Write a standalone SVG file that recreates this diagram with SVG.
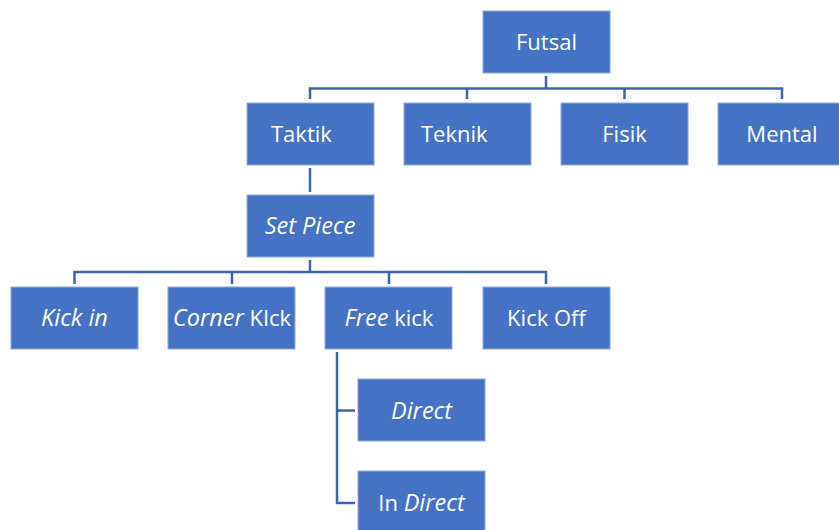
<svg xmlns="http://www.w3.org/2000/svg" width="839" height="530" viewBox="0 0 839 530">
<style>
.box{fill:#4472C4;stroke:#8FAADC;stroke-width:1}
.t{font-family:"Open Sans","Liberation Sans",sans-serif;font-size:22px;fill:#ffffff}
.c{text-anchor:middle}
.i{font-style:italic;font-size:23.5px}
.ln{fill:none;stroke:#3D65AD;stroke-width:2.5}
</style>
<rect width="839" height="530" fill="#ffffff"/>
<g id="connectors">
<path class="ln" d="M546,76 V88.5 M310,99 V88.5 H782 V99 M467,88.5 V99 M624.5,88.5 V99"/>
<path class="ln" d="M310,168 V192"/>
<path class="ln" d="M310,260 V272 M74.5,284 V272 H546 V284 M232,272 V284 M389,272 V284"/>
<path class="ln" d="M337,352 V503 H355 M337,410.5 H355"/>
</g>
<g id="futsal"><rect class="box" x="483" y="11" width="127" height="62"/><text class="t c" x="546.5" y="50">Futsal</text></g>
<g id="taktik"><rect class="box" x="247" y="103" width="127" height="62"/><text class="t" x="271" y="142">Taktik</text></g>
<g id="teknik"><rect class="box" x="404" y="103" width="127" height="62"/><text class="t" x="421" y="142">Teknik</text></g>
<g id="fisik"><rect class="box" x="561" y="103" width="127" height="62"/><text class="t c" x="624.5" y="142">Fisik</text></g>
<g id="mental"><rect class="box" x="718" y="103" width="127" height="62"/><text class="t c" x="782" y="142">Mental</text></g>
<g id="setpiece"><rect class="box" x="247" y="195" width="127" height="62"/><text class="t c i" x="310" y="234">Set Piece</text></g>
<g id="kickin"><rect class="box" x="11" y="287" width="127" height="62"/><text class="t c i" x="74.5" y="326">Kick in</text></g>
<g id="corner"><rect class="box" x="168" y="287" width="127" height="62"/><text class="t c" x="232" y="326"><tspan class="i">Corner</tspan> KIck</text></g>
<g id="freekick"><rect class="box" x="325" y="287" width="127" height="62"/><text class="t c" x="389" y="326"><tspan class="i">Free</tspan> kick</text></g>
<g id="kickoff"><rect class="box" x="483" y="287" width="127" height="62"/><text class="t c" x="546.5" y="326">Kick Off</text></g>
<g id="direct"><rect class="box" x="358" y="379" width="127" height="62"/><text class="t c i" x="421.5" y="419">Direct</text></g>
<g id="indirect"><rect class="box" x="358" y="471" width="127" height="62"/><text class="t c" x="421.5" y="511">In <tspan class="i">Direct</tspan></text></g>
</svg>
